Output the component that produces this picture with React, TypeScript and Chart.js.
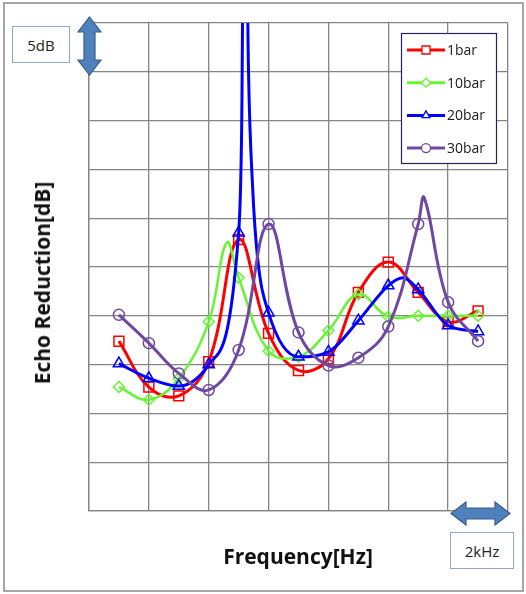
import React, { useEffect, useRef } from "react";
import { Chart, registerables } from "chart.js";

Chart.register(...registerables);

// Frequencies (kHz) of the marked points
const markerFreqs = [1, 2, 3, 4, 5, 6, 7, 8, 9, 10, 11, 12, 13];

// Echo reduction (dB) at the marked points
const bar1Values = [17.4, 12.7, 11.8, 15.3, 27.8, 18.2, 14.4, 15.6, 22.4, 25.5, 22.4, 19.4, 20.5];
const bar10Values = [12.7, 11.4, 13.6, 19.4, 23.9, 16.4, 15.8, 18.5, 22.2, 19.9, 20.0, 20.0, 20.0];
const bar20Values = [15.1, 13.6, 12.8, 15.0, 28.5, 20.3, 15.8, 16.3, 19.5, 23.1, 22.7, 19.0, 18.4];
const bar30Values = [20.1, 17.2, 14.1, 12.4, 16.5, 29.4, 18.3, 14.9, 15.7, 18.9, 29.4, 21.4, 17.4];

// Unmarked curve points
const bar1PeakFreqs: number[] = [];
const bar1PeakValues: number[] = [];
const bar10PeakFreqs = [4.6];
const bar10PeakValues = [27.5];
const bar20PeakFreqs = [5.1, 5.2, 5.33, 5.47, 5.63, 10.5];
const bar20PeakValues = [39, 75, 45, 33, 26, 23.9];
const bar30PeakFreqs = [11.2];
const bar30PeakValues = [32.1];

const seriesNames = ["1bar", "10bar", "20bar", "30bar"];
const xMin = 0;
const xMax = 14;
const xStep = 2;
const yMin = 0;
const yMax = 50;
const yStep = 5;

const COLORS = ["#FF0000", "#66F533", "#0000FF", "#7048A0"];
const STYLES = ["rect", "rectRot", "triangle", "circle"];
const RADII = [7, 5.5, 6.5, 5.5];

function buildSeries(values: number[], peakF: number[], peakV: number[], r: number) {
  const pts = markerFreqs
    .map((f, i) => ({ x: f, y: values[i], m: true }))
    .concat(peakF.map((f, i) => ({ x: f, y: peakV[i], m: false })));
  pts.sort((a, b) => a.x - b.x);
  return {
    data: pts.map((p) => ({ x: p.x, y: p.y })),
    radii: pts.map((p) => (p.m ? r : 0)),
  };
}

function drawMarker(ctx: CanvasRenderingContext2D, style: string, x: number, y: number, r: number) {
  ctx.beginPath();
  if (style === "rect") {
    const s = r;
    ctx.rect(x - s / 2, y - s / 2, s, s);
  } else if (style === "rectRot") {
    ctx.moveTo(x, y - r);
    ctx.lineTo(x + r, y);
    ctx.lineTo(x, y + r);
    ctx.lineTo(x - r, y);
    ctx.closePath();
  } else if (style === "triangle") {
    ctx.moveTo(x, y - r);
    ctx.lineTo(x + r * 0.87, y + r * 0.5);
    ctx.lineTo(x - r * 0.87, y + r * 0.5);
    ctx.closePath();
  } else {
    ctx.arc(x, y, r, 0, Math.PI * 2);
  }
  ctx.fillStyle = "#ffffff";
  ctx.fill();
  ctx.stroke();
}

const boxLegend = {
  id: "boxLegend",
  afterDraw(chart: any) {
    const ctx: CanvasRenderingContext2D = chart.ctx;
    ctx.save();
    ctx.fillStyle = "#ffffff";
    ctx.fillRect(401, 33, 95, 130);
    ctx.strokeStyle = "#24245a";
    ctx.lineWidth = 1.2;
    ctx.strokeRect(401.5, 33.5, 95, 130);
    chart.data.datasets.forEach((ds: any, i: number) => {
      const y = 50 + i * 32.7;
      ctx.strokeStyle = ds.borderColor;
      ctx.lineWidth = 3;
      ctx.beginPath();
      ctx.moveTo(407, y);
      ctx.lineTo(445, y);
      ctx.stroke();
      ctx.lineWidth = 1.3;
      drawMarker(ctx, STYLES[i], 426, y, STYLES[i] === "rect" ? 8 : 4.5);
      ctx.fillStyle = "#1a1a1a";
      ctx.font = '14px "Open Sans"';
      ctx.textBaseline = "middle";
      ctx.textAlign = "left";
      ctx.fillText(ds.label, 447, y + 1);
    });
    ctx.restore();
  },
};

export default function App() {
  const ref = useRef<HTMLCanvasElement>(null);

  useEffect(() => {
    if (!ref.current) return;
    const s = [
      buildSeries(bar1Values, bar1PeakFreqs, bar1PeakValues, RADII[0]),
      buildSeries(bar10Values, bar10PeakFreqs, bar10PeakValues, RADII[1]),
      buildSeries(bar20Values, bar20PeakFreqs, bar20PeakValues, RADII[2]),
      buildSeries(bar30Values, bar30PeakFreqs, bar30PeakValues, RADII[3]),
    ];
    const datasets = s.map((ser, i) => ({
      label: seriesNames[i],
      data: ser.data,
      borderColor: COLORS[i],
      backgroundColor: COLORS[i],
      borderWidth: i === 1 ? 2.5 : 3,
      tension: 0.4,
      cubicInterpolationMode: i === 2 ? "monotone" : "default",
      pointStyle: STYLES[i],
      pointRadius: ser.radii,
      pointHoverRadius: ser.radii,
      pointBorderColor: COLORS[i],
      pointBackgroundColor: "rgba(255,255,255,0)",
      pointBorderWidth: 1.5,
      borderJoinStyle: "round",
      fill: false,
      order: 3 - i,
    }));
    const chart = new Chart(ref.current, {
      type: "line",
      data: { datasets } as any,
      options: {
        animation: false,
        responsive: false,
        devicePixelRatio: 1,
        events: [],
        layout: { padding: { left: 89, top: 23, right: 18, bottom: 83 } },
        plugins: { legend: { display: false }, tooltip: { enabled: false } },
        scales: {
          x: {
            type: "linear",
            min: xMin,
            max: xMax,
            ticks: { stepSize: xStep, display: false },
            grid: { color: "#858585", lineWidth: 1.3, drawTicks: false },
            border: { display: true, color: "#858585", width: 1.3 },
            afterFit: (sc: any) => { sc.height = 0; },
          },
          y: {
            type: "linear",
            min: yMin,
            max: yMax,
            ticks: { stepSize: yStep, display: false },
            grid: { color: "#858585", lineWidth: 1.3, drawTicks: false },
            border: { display: true, color: "#858585", width: 1.3 },
            afterFit: (sc: any) => { sc.width = 0; },
          },
        },
      } as any,
      plugins: [boxLegend],
    });
    return () => chart.destroy();
  }, []);

  const arrowFill = "#4F81BD";
  const arrowStroke = "#385D8A";

  return (
    <div style={{ position: "fixed", left: 0, top: 0, width: 526, height: 594, background: "#fff", overflow: "hidden" }}>
      <canvas ref={ref} width={526} height={594} style={{ position: "absolute", left: 0, top: 0 }} />
      <div style={{ position: "absolute", left: 3, top: 2, width: 521, height: 590, border: "2px solid #A6A6A6", boxSizing: "border-box", pointerEvents: "none" }} />
      <div style={{ position: "absolute", left: 12, top: 26, width: 58, height: 37, border: "1px solid #8FA8C8", boxSizing: "border-box", background: "#fff", display: "flex", alignItems: "center", justifyContent: "center", font: '15px "Open Sans"', color: "#222" }}>5dB</div>
      <svg style={{ position: "absolute", left: 76, top: 16 }} width={27} height={60}>
        <polygon points="13.5,1 25,16 19,16 19,44 25,44 13.5,59 2,44 8,44 8,16 2,16" fill={arrowFill} stroke={arrowStroke} strokeWidth={1.2} />
      </svg>
      <svg style={{ position: "absolute", left: 450, top: 501 }} width={61} height={25}>
        <polygon points="1,12.5 16,1 16,7 45,7 45,1 60,12.5 45,24 45,18 16,18 16,24" fill={arrowFill} stroke={arrowStroke} strokeWidth={1.2} />
      </svg>
      <div style={{ position: "absolute", left: 450, top: 532, width: 64, height: 37, border: "1px solid #8FA8C8", boxSizing: "border-box", background: "#fff", display: "flex", alignItems: "center", justifyContent: "center", font: '15px "Open Sans"', color: "#222" }}>2kHz</div>
      <div style={{ position: "absolute", left: 42, top: 283, transform: "translate(-50%, -50%) rotate(-90deg)", whiteSpace: "nowrap", font: 'bold 21px "Open Sans"', color: "#111" }}>Echo Reduction[dB]</div>
      <div style={{ position: "absolute", left: 298, top: 556, transform: "translate(-50%, -50%)", whiteSpace: "nowrap", font: 'bold 21px "Open Sans"', color: "#111" }}>Frequency[Hz]</div>
    </div>
  );
}
